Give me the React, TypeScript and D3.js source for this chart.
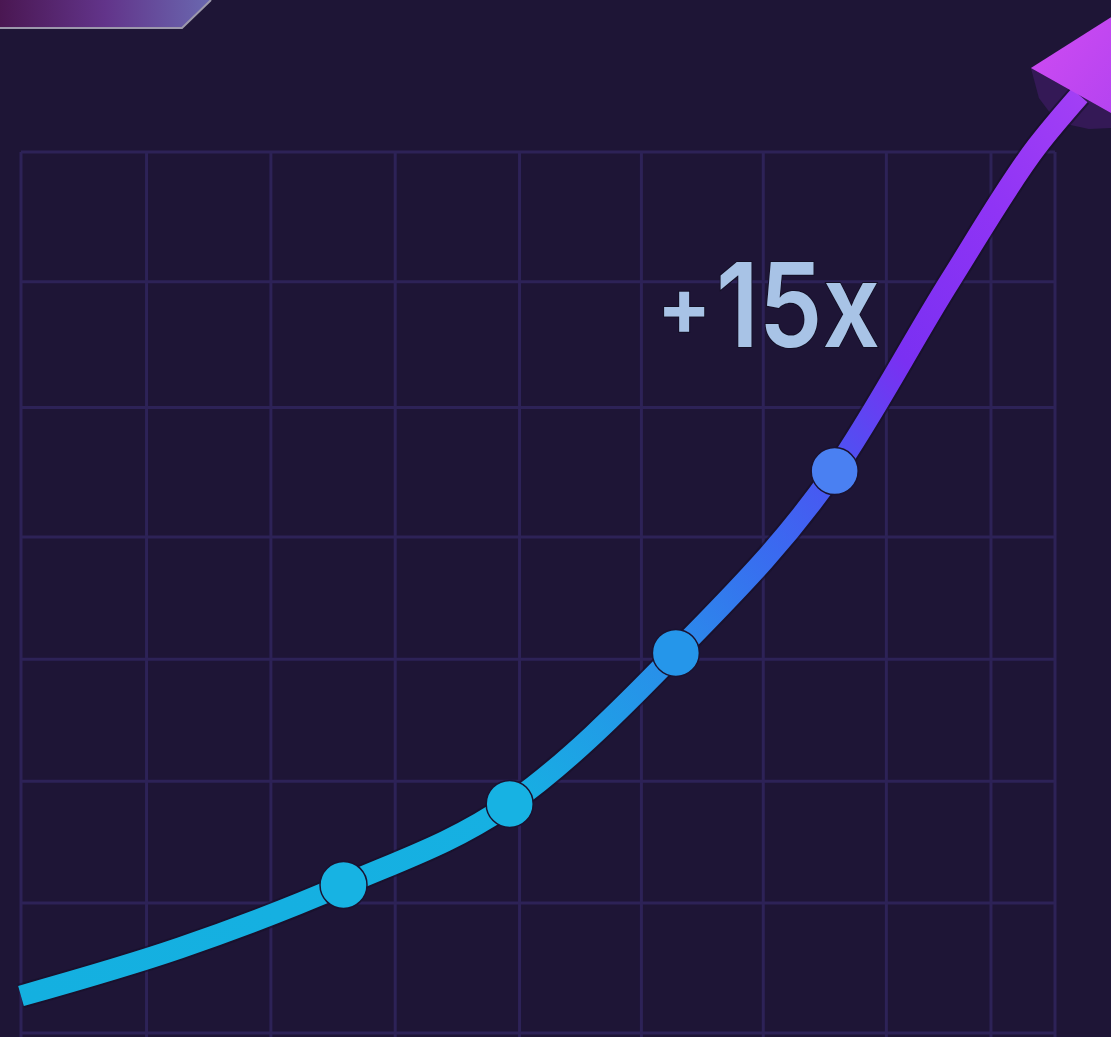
import React, { useEffect } from "react";
import * as d3 from "d3";

// ---- data (chart units) ----
const xGrid = [0, 1.02, 2.03, 3.04, 4.05, 5.04, 6.03, 7.03, 7.88, 8.4];
const yGrid = [0, 1.033, 2.0, 2.97, 3.94, 4.97, 5.97, 7];
const curveX = [0, 1.29, 2.62, 3.97, 5.32, 6.61, 7.55, 8.25, 8.6];
const curveY = [0.294, 0.675, 1.176, 1.82, 3.02, 4.465, 5.98, 7.04, 7.45];
const markerIdx = [2, 3, 4, 5];
const label = "15x";
const labelPrefix = "+";

const W = 1111;
const H = 1037;

export default function App() {
  useEffect(() => {
    document.body.style.margin = "0";
    document.body.style.background = "#1e1536";
  }, []);

  const x = d3.scaleLinear().domain([0, 8.4]).range([21, 1055]);
  const y = d3.scaleLinear().domain([0, 7]).range([1033, 152]);

  const pts: [number, number][] = curveX.map((v, i) => [x(v), y(curveY[i])]);
  const line = d3
    .line<[number, number]>()
    .x((d) => d[0])
    .y((d) => d[1])
    .curve(d3.curveMonotoneX);
  const pathD = line(pts) || "";

  const start = pts[0];
  const end = pts[pts.length - 1];

  // arrowhead geometry
  const dir = [0.49, -0.87];
  const perp = [0.87, 0.49];
  const half = 56;
  const len = 104;
  const c = end;
  const Lc = [c[0] - perp[0] * half, c[1] - perp[1] * half];
  const Rc = [c[0] + perp[0] * half, c[1] + perp[1] * half];
  const tip = [c[0] + dir[0] * len, c[1] + dir[1] * len];

  const pointColors = ["#17b3e3", "#17b2e3", "#2596ea", "#4a80f2"];

  const xMin = x(xGrid[0]);
  const xMax = x(xGrid[xGrid.length - 1]);
  const yMin = y(yGrid[yGrid.length - 1]);
  const yMax = y(yGrid[0]);

  return (
    <svg
      width={W}
      height={H}
      viewBox={`0 0 ${W} ${H}`}
      style={{ position: "absolute", left: 0, top: 0, display: "block" }}
    >
      <defs>
        <linearGradient
          id="lineGrad"
          gradientUnits="userSpaceOnUse"
          x1={start[0]}
          y1={start[1]}
          x2={end[0]}
          y2={end[1]}
        >
          <stop offset="0" stopColor="#14b0e0" />
          <stop offset="0.36" stopColor="#16b0e2" />
          <stop offset="0.52" stopColor="#2a8cea" />
          <stop offset="0.62" stopColor="#3a6af0" />
          <stop offset="0.7" stopColor="#4d52f2" />
          <stop offset="0.78" stopColor="#7a30f2" />
          <stop offset="0.9" stopColor="#8f34f5" />
          <stop offset="1" stopColor="#a23ff5" />
        </linearGradient>
        <linearGradient id="bannerGrad" x1="0" y1="0" x2="1" y2="0">
          <stop offset="0" stopColor="#4a1752" />
          <stop offset="0.5" stopColor="#62348a" />
          <stop offset="1" stopColor="#6a68b0" />
        </linearGradient>
        <linearGradient id="headGrad" x1="0" y1="0" x2="1" y2="1">
          <stop offset="0" stopColor="#d24cf2" />
          <stop offset="1" stopColor="#b042f0" />
        </linearGradient>
      </defs>

      <rect x={0} y={0} width={W} height={H} fill="#1e1536" />

      {/* top-left banner */}
      <polygon points="0,0 211,0 182,28 0,28" fill="url(#bannerGrad)" />
      <polyline
        points="0,28 182,28 211,0"
        fill="none"
        stroke="#9c98ac"
        strokeWidth={2}
      />

      {/* grid */}
      <g stroke="#2d2257" strokeWidth={3}>
        {xGrid.map((v, i) => (
          <line key={"vx" + i} x1={x(v)} x2={x(v)} y1={yMin} y2={yMax + 4} />
        ))}
        {yGrid.map((v, i) => (
          <line key={"hy" + i} x1={xMin} x2={xMax} y1={y(v)} y2={y(v)} />
        ))}
      </g>

      {/* label */}
      <text
        x={657}
        y={335}
        fontFamily="Inter, 'Noto Sans', sans-serif"
        fontWeight={700}
        fontSize={80}
        fill="#a8c3e6"
        stroke="#141026"
        strokeWidth={2}
        paintOrder="stroke"
      >
        {labelPrefix}
      </text>
      <text
        x={716}
        y={347}
        fontFamily="Inter, 'Noto Sans', sans-serif"
        fontWeight={600}
        fontSize={117}
        fill="#a8c3e6"
        stroke="#141026"
        strokeWidth={2}
        paintOrder="stroke"
        textLength={164}
        lengthAdjust="spacingAndGlyphs"
      >
        {label}
      </text>

      {/* arrow head shadow */}
      <polygon
        points={`${Lc[0]},${Lc[1]} ${Lc[0] + 8},${Lc[1] + 30} ${Lc[0] + 26},${Lc[1] + 54} ${Lc[0] + 58},${Lc[1] + 61} ${W},${Lc[1] + 60} ${Rc[0]},${Rc[1]}`}
        fill="#36195a"
        opacity={0.9}
      />

      {/* line */}
      <path d={pathD} fill="none" stroke="#150f28" strokeWidth={25} strokeLinecap="butt" opacity={0.6} />
      <path d={pathD} fill="none" stroke="url(#lineGrad)" strokeWidth={21} strokeLinecap="butt" />

      {/* arrow head */}
      <polygon
        points={`${Lc[0]},${Lc[1]} ${tip[0]},${tip[1]} ${Rc[0]},${Rc[1]}`}
        fill="url(#headGrad)"
      />

      {/* markers */}
      {markerIdx.map((idx, i) => (
        <circle
          key={"m" + i}
          cx={pts[idx][0]}
          cy={pts[idx][1]}
          r={23.5}
          fill={pointColors[i]}
          stroke="#1a1230"
          strokeWidth={1.5}
        />
      ))}
    </svg>
  );
}
